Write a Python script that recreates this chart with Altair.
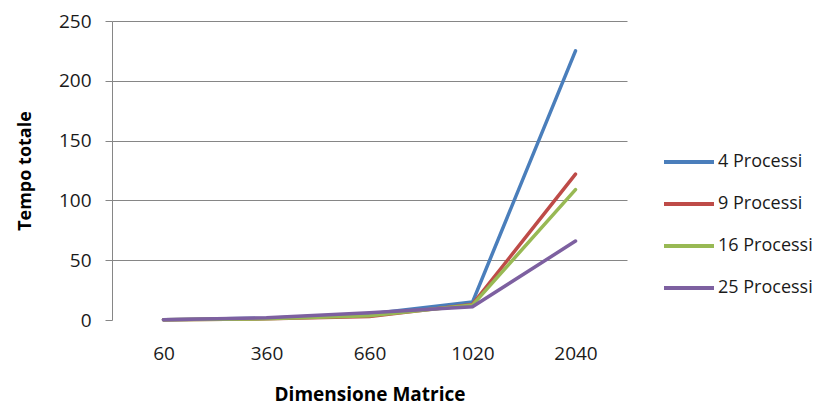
import altair as alt
import pandas as pd

categories = ["60", "360", "660", "1020", "2040"]
series_names = ["4 Processi", "9 Processi", "16 Processi", "25 Processi"]
p4 = [0.2, 1.5, 5.0, 15.0, 225.0]
p9 = [0.2, 1.0, 3.0, 13.0, 122.0]
p16 = [0.2, 1.0, 3.5, 12.5, 109.0]
p25 = [0.3, 1.8, 6.0, 11.0, 66.0]
colors = ["#4A7EBB", "#BE4B48", "#98B954", "#7D60A0"]

rows = []
for name, vals in zip(series_names, [p4, p9, p16, p25]):
    for c, v in zip(categories, vals):
        rows.append({"dim": c, "serie": name, "tempo": v, "ord": series_names.index(name)})
df = pd.DataFrame(rows)

FONT = "Open Sans"

chart = alt.Chart(df).mark_line(strokeWidth=3.5, strokeCap="round").encode(
    x=alt.X("dim:O", sort=categories,
            scale=alt.Scale(type="point", padding=0.5),
            axis=alt.Axis(title="Dimensione Matrice", labelAngle=0, domain=False, ticks=False,
                          labelPadding=24, titlePadding=22, labelFontSize=19,
                          titleFontSize=19, titleFontWeight="bold")),
    y=alt.Y("tempo:Q",
            scale=alt.Scale(domain=[0, 250], nice=False),
            axis=alt.Axis(title="Tempo totale", values=[0, 50, 100, 150, 200, 250],
                          domainColor="#868686", tickColor="#868686", tickSize=7,
                          gridColor="#868686",
                          gridOpacity={"condition": {"test": "datum.value === 0", "value": 0}, "value": 1},
                          labelPadding=14, titlePadding=24, labelFontSize=19,
                          titleFontSize=18, titleFontWeight="bold")),
    color=alt.Color("serie:N", sort=series_names,
                    scale=alt.Scale(domain=series_names, range=colors),
                    legend=alt.Legend(title=None, orient="none", legendX=550, legendY=114,
                                      symbolType="stroke", symbolStrokeWidth=4, symbolSize=2500,
                                      labelFontSize=18, rowPadding=6, labelOffset=2)),
    order=alt.Order("ord:Q"),
    detail="serie:N",
).properties(
    width=515, height=299,
    autosize=alt.AutoSizeParams(type="none"),
    padding={"left": 104, "top": 13, "right": 188, "bottom": 88},
).configure_view(stroke=None).configure_axis(
    labelFont=FONT, titleFont=FONT, labelColor="#1a1a1a", titleColor="#000", grid=True
).configure_axisX(grid=False).configure_legend(labelFont=FONT, labelColor="#1a1a1a")

chart.save("out.html", embed_options={"renderer": "svg", "actions": False})
